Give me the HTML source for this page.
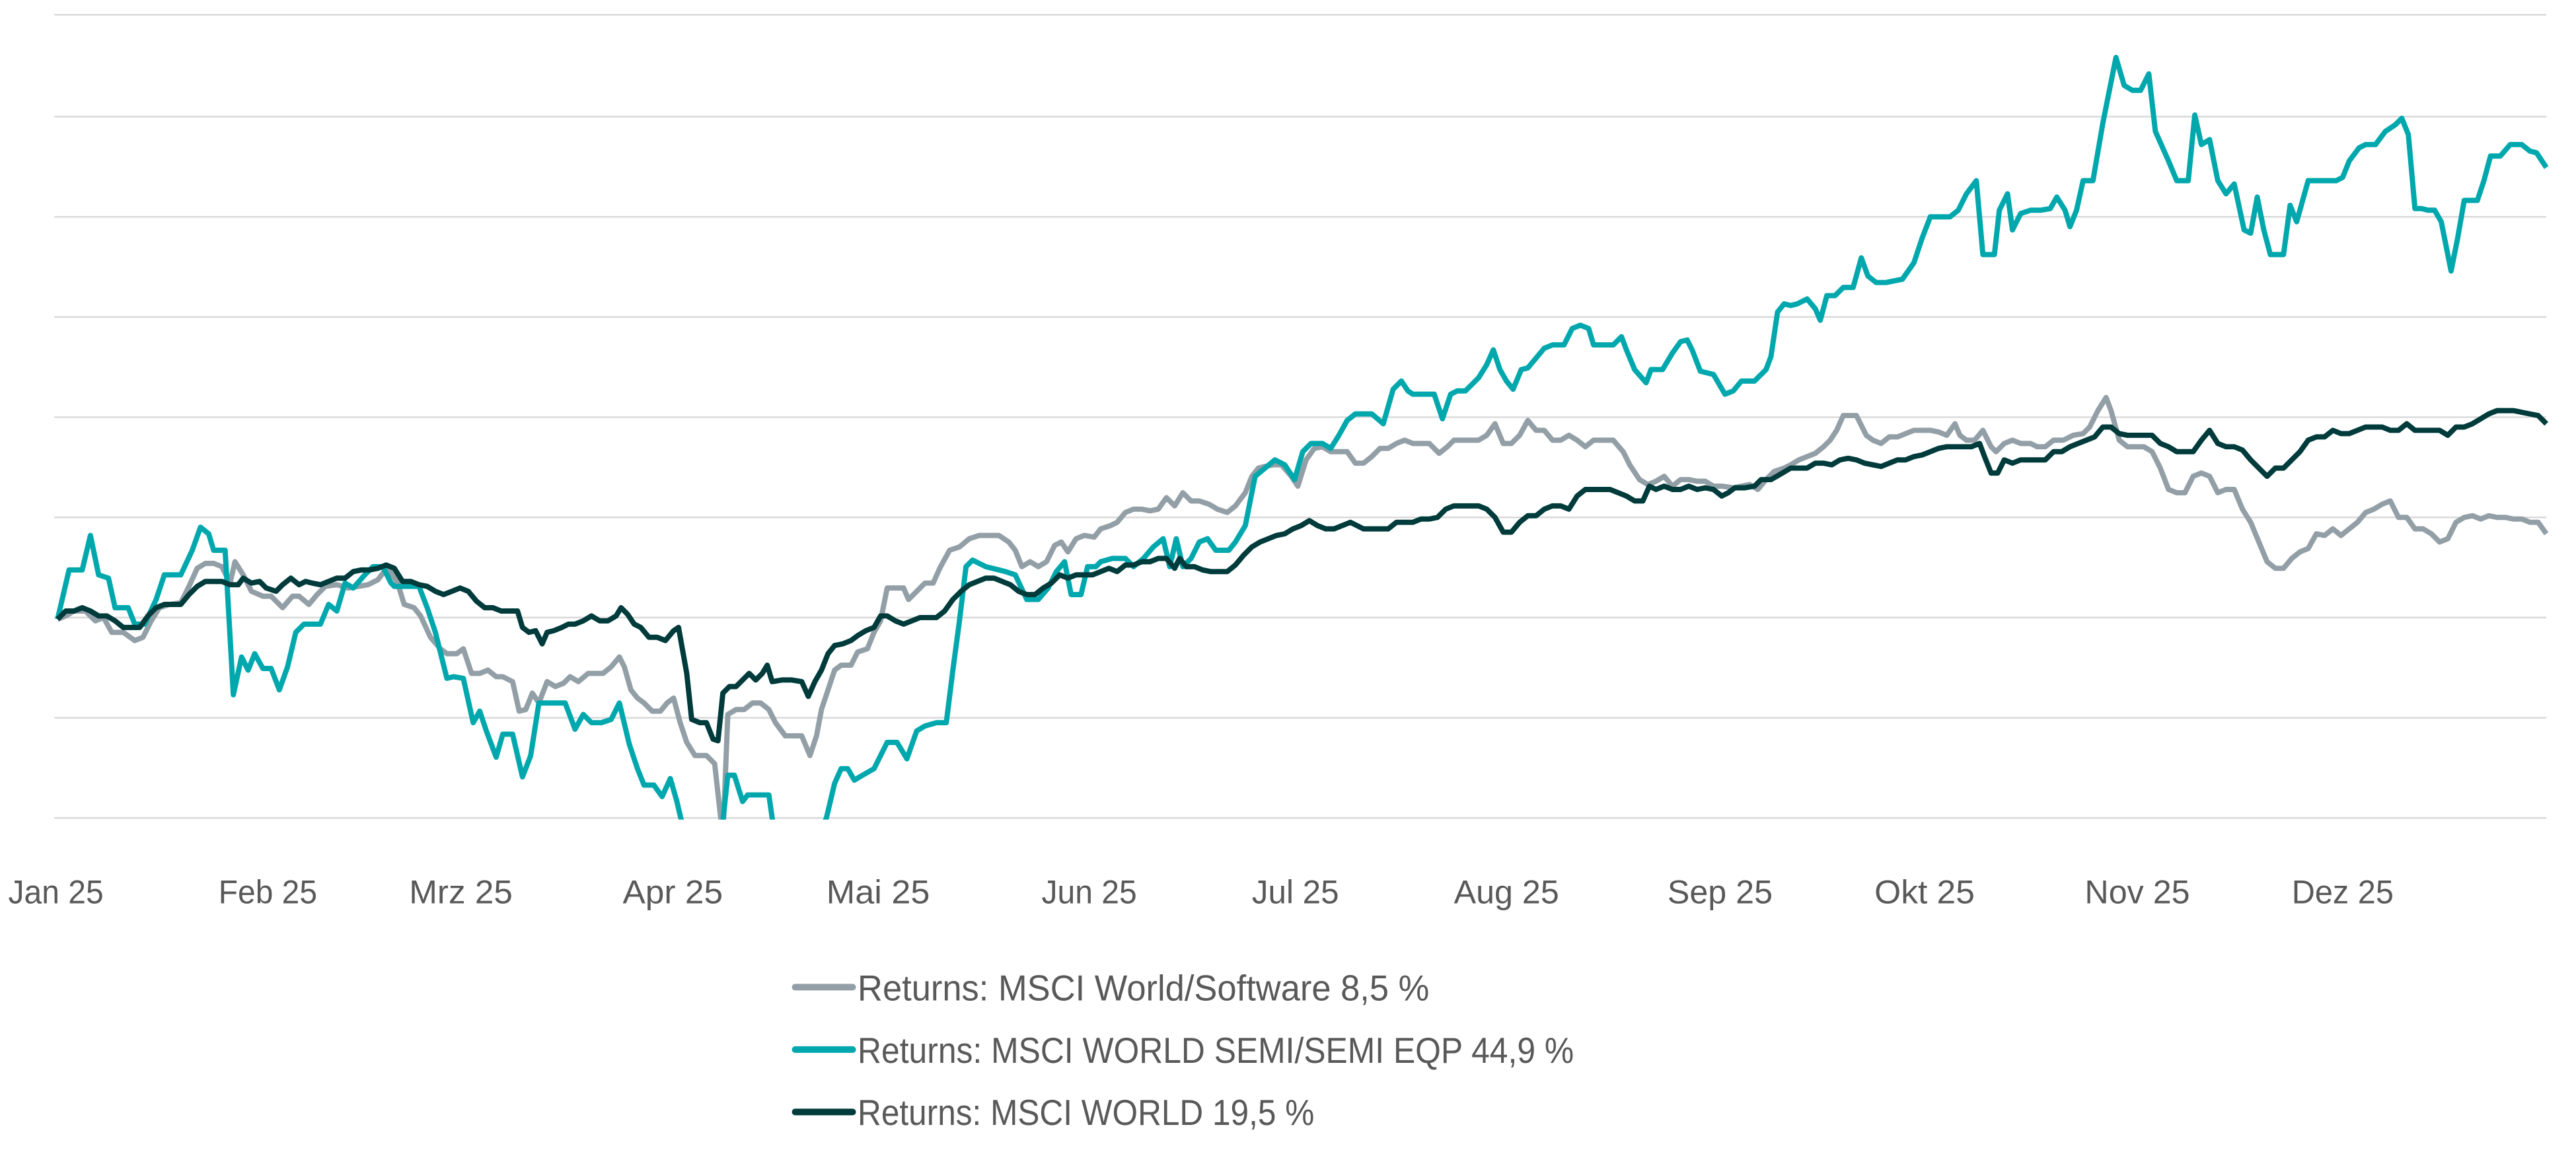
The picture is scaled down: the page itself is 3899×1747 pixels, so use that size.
<!DOCTYPE html>
<html><head><meta charset="utf-8"><style>html,body{margin:0;padding:0;background:#fff}svg{display:block}</style></head>
<body>
<svg width="3899" height="1747" viewBox="0 0 1568 702.6" xmlns="http://www.w3.org/2000/svg">
<defs><clipPath id="c"><rect x="0" y="0" width="1568" height="499"/></clipPath></defs>
<g stroke="#d9d9d9" stroke-width="1">
<line x1="33" x2="1550" y1="9" y2="9"/><line x1="33" x2="1550" y1="71" y2="71"/><line x1="33" x2="1550" y1="132" y2="132"/><line x1="33" x2="1550" y1="193" y2="193"/><line x1="33" x2="1550" y1="254" y2="254"/><line x1="33" x2="1550" y1="315" y2="315"/><line x1="33" x2="1550" y1="376" y2="376"/><line x1="33" x2="1550" y1="437" y2="437"/><line x1="33" x2="1550" y1="498" y2="498"/>
</g>
<g font-family="Liberation Sans, sans-serif" font-size="20" fill="#595959">
<text x="5" y="550" textLength="58" lengthAdjust="spacingAndGlyphs">Jan 25</text>
<text x="133" y="550" textLength="60" lengthAdjust="spacingAndGlyphs">Feb 25</text>
<text x="249" y="550" textLength="63" lengthAdjust="spacingAndGlyphs">Mrz 25</text>
<text x="379" y="550" textLength="61" lengthAdjust="spacingAndGlyphs">Apr 25</text>
<text x="503" y="550" textLength="63" lengthAdjust="spacingAndGlyphs">Mai 25</text>
<text x="634" y="550" textLength="58" lengthAdjust="spacingAndGlyphs">Jun 25</text>
<text x="762" y="550" textLength="53" lengthAdjust="spacingAndGlyphs">Jul 25</text>
<text x="885" y="550" textLength="64" lengthAdjust="spacingAndGlyphs">Aug 25</text>
<text x="1015" y="550" textLength="64" lengthAdjust="spacingAndGlyphs">Sep 25</text>
<text x="1141" y="550" textLength="61" lengthAdjust="spacingAndGlyphs">Okt 25</text>
<text x="1269" y="550" textLength="64" lengthAdjust="spacingAndGlyphs">Nov 25</text>
<text x="1395" y="550" textLength="62" lengthAdjust="spacingAndGlyphs">Dez 25</text>
</g>
<g fill="none" stroke-width="3.2" stroke-linejoin="round" clip-path="url(#c)">
<polyline stroke="#939fa6" points="35,377 40,375 45,372 52,372 58,378 63,376 68,385 75,385 82,390 87,388 92,378 97,370 103,368 110,367 115,357 120,346 125,343 130,343 135,345 140,355 143,342 148,350 153,360 160,363 165,363 172,370 178,363 182,363 188,368 193,362 198,357 205,356 212,358 218,357 224,356 230,353 236,345 242,355 246,368 252,370 256,375 262,388 268,395 272,398 278,398 282,395 287,410 292,410 297,408 302,412 306,412 312,415 316,433 320,432 324,422 328,428 333,415 338,418 343,416 347,412 352,415 358,410 362,410 367,410 372,406 377,400 380,406 384,420 388,425 392,428 397,433 402,433 406,428 410,425 414,440 418,452 423,460 430,460 435,465 440,510 443,435 448,432 453,432 458,428 463,428 468,432 472,440 478,448 483,448 488,448 493,460 497,448 500,432 504,420 508,408 512,405 518,405 522,397 528,395 532,385 536,378 540,358 545,358 550,358 553,365 558,360 563,355 568,355 572,346 578,335 584,333 590,328 596,326 602,326 608,326 614,330 618,335 622,345 627,342 632,345 637,342 642,332 646,330 650,336 655,328 660,326 666,327 670,322 676,320 680,318 685,312 690,310 695,310 700,311 705,310 710,303 715,308 720,300 725,305 730,305 736,307 741,310 747,312 752,308 758,300 762,290 766,285 770,284 775,283 780,283 786,290 790,296 795,280 800,273 805,272 810,275 815,275 820,275 825,282 830,282 835,278 840,273 845,273 850,270 855,268 860,270 865,270 870,270 876,276 881,272 885,268 890,268 895,268 900,268 905,265 910,258 915,270 920,270 925,265 930,256 935,262 940,262 945,268 950,268 955,265 960,268 965,272 970,268 976,268 982,268 988,275 992,283 998,292 1003,295 1008,293 1013,290 1018,296 1023,292 1028,292 1033,293 1038,293 1043,296 1048,296 1055,297 1060,296 1065,295 1070,298 1075,292 1080,287 1086,285 1090,283 1095,280 1100,278 1105,276 1110,272 1114,268 1118,262 1122,253 1130,253 1136,265 1140,268 1145,270 1150,266 1155,266 1160,264 1165,262 1170,262 1175,262 1180,263 1185,265 1190,258 1193,265 1197,268 1202,268 1207,262 1212,272 1215,275 1220,270 1225,268 1230,270 1236,270 1240,272 1245,272 1250,268 1256,268 1262,265 1268,264 1272,260 1277,250 1282,242 1285,250 1290,268 1295,272 1300,272 1305,272 1310,275 1315,285 1320,298 1325,300 1330,300 1335,290 1340,288 1345,290 1350,300 1355,298 1360,298 1365,310 1370,318 1375,330 1380,342 1385,346 1390,346 1395,340 1400,336 1405,334 1410,325 1415,326 1420,322 1425,326 1430,322 1435,318 1440,312 1445,310 1450,307 1455,305 1460,315 1465,315 1470,322 1475,322 1480,325 1485,330 1490,328 1495,318 1500,315 1505,314 1510,316 1515,314 1520,315 1525,315 1530,316 1535,316 1540,318 1545,318 1550,325"/>
<polyline stroke="#00a8ad" points="35,377 42,347 50,347 55,326 60,350 66,352 70,370 78,370 82,380 88,380 95,365 100,350 110,350 117,335 122,321 127,325 130,335 137,335 142,423 147,400 151,408 155,398 160,407 165,407 170,420 175,406 180,385 185,380 195,380 200,368 205,372 210,355 215,358 222,350 227,345 233,345 238,355 240,357 245,357 255,357 260,370 265,385 268,397 272,413 276,412 282,413 288,440 292,433 296,445 302,461 306,447 312,447 318,473 323,460 328,428 333,428 338,428 344,428 350,444 355,435 360,440 366,440 372,438 377,428 383,453 388,468 392,478 398,478 403,485 408,474 412,488 416,505 425,530 438,520 440,500 443,472 447,472 452,488 455,484 462,484 468,484 471,505 490,530 503,498 508,477 512,468 516,468 520,475 525,472 532,468 536,460 540,452 546,452 552,462 558,445 563,442 570,440 576,440 580,408 584,378 588,345 592,341 600,345 612,348 618,350 625,365 632,365 638,358 643,348 648,342 652,362 658,362 662,345 667,345 670,342 677,340 685,340 690,345 696,340 702,333 708,328 712,345 716,328 720,345 725,340 730,330 735,328 740,335 748,335 752,330 758,320 764,290 770,285 776,280 782,283 788,292 793,275 798,270 805,270 810,273 815,265 820,256 825,252 835,252 842,258 848,237 853,232 857,238 860,240 867,240 873,240 878,255 883,240 887,238 892,238 900,230 905,222 909,213 913,225 917,232 921,237 926,225 930,224 935,218 940,212 945,210 952,210 957,200 962,198 967,200 970,210 976,210 982,210 987,205 990,213 995,225 1002,233 1005,225 1012,225 1018,215 1023,208 1027,207 1030,213 1035,226 1043,228 1050,240 1055,238 1060,232 1068,232 1075,225 1078,217 1082,190 1086,185 1090,186 1094,185 1100,182 1105,188 1108,195 1112,180 1117,180 1122,175 1128,175 1133,157 1137,168 1142,172 1148,172 1158,170 1165,160 1170,145 1175,132 1180,132 1187,132 1192,128 1197,118 1203,110 1207,155 1214,155 1217,128 1222,118 1225,140 1230,130 1236,128 1242,128 1248,127 1252,120 1257,128 1260,138 1264,128 1268,110 1274,110 1280,75 1288,35 1293,52 1298,55 1303,55 1308,45 1312,80 1320,98 1325,110 1332,110 1336,70 1340,88 1345,85 1350,110 1355,118 1360,112 1366,140 1370,142 1374,120 1378,140 1382,155 1390,155 1394,125 1398,135 1405,110 1412,110 1422,110 1426,108 1430,98 1436,90 1440,88 1446,88 1452,80 1458,76 1462,72 1466,82 1470,127 1474,127 1478,128 1482,128 1486,135 1492,165 1496,145 1500,122 1508,122 1512,110 1516,95 1522,95 1528,88 1535,88 1540,92 1544,93 1550,102"/>
<polyline stroke="#003b3c" points="35,377 40,372 45,372 50,370 55,372 60,375 65,375 70,378 75,382 80,382 85,382 90,375 95,370 100,368 105,368 110,368 115,362 120,357 125,354 130,354 135,354 140,356 145,356 148,352 153,355 158,354 162,358 168,360 172,356 177,352 182,356 186,354 190,355 195,356 200,354 205,352 210,352 215,348 220,347 225,347 230,346 235,344 240,346 245,354 250,354 255,356 260,357 265,360 270,362 275,360 280,358 285,360 290,366 295,370 300,370 305,372 310,372 315,372 318,382 322,385 326,384 330,392 333,385 337,384 342,382 346,380 350,380 355,378 360,375 365,378 370,378 375,375 378,370 382,374 386,380 390,382 395,388 400,388 405,390 410,384 413,382 418,410 421,438 426,440 430,440 434,450 437,451 440,422 444,418 448,418 452,414 456,410 460,414 464,410 467,405 470,415 476,414 482,414 488,415 492,424 496,415 500,408 504,398 508,393 513,392 518,390 522,387 527,384 532,382 536,375 540,375 545,378 550,380 555,378 560,376 565,376 570,376 575,372 580,365 585,360 590,356 595,354 600,352 605,352 610,354 615,356 620,360 625,362 630,362 635,358 640,355 645,350 650,352 655,350 660,350 665,350 670,348 675,346 680,348 685,344 690,344 695,342 700,342 705,340 710,340 715,346 718,340 722,345 727,345 732,347 737,348 742,348 747,348 752,344 757,338 762,333 767,330 772,328 777,326 782,325 787,322 792,320 797,317 802,320 807,322 812,322 817,320 822,318 826,320 830,322 835,322 840,322 845,322 850,318 855,318 860,318 865,316 870,316 875,315 880,310 885,308 890,308 895,308 900,308 905,310 910,315 915,324 920,324 925,318 930,314 935,314 940,310 945,308 950,308 955,310 960,302 965,298 970,298 975,298 980,298 985,300 990,302 995,305 1000,305 1004,296 1008,298 1013,296 1018,298 1023,298 1028,296 1033,298 1038,297 1043,298 1048,302 1052,300 1056,297 1062,297 1068,296 1072,292 1078,292 1085,288 1090,285 1095,285 1100,285 1105,282 1110,282 1115,283 1120,280 1125,279 1130,280 1135,282 1140,283 1145,284 1150,282 1155,280 1160,280 1165,278 1170,277 1175,275 1180,273 1185,272 1190,272 1195,272 1200,272 1205,270 1208,278 1212,288 1216,288 1220,280 1225,282 1230,280 1235,280 1240,280 1245,280 1250,275 1255,275 1260,272 1265,270 1270,268 1275,266 1280,260 1285,260 1290,264 1295,265 1300,265 1305,265 1310,265 1315,270 1320,272 1325,275 1330,275 1335,275 1340,268 1345,262 1350,270 1355,272 1360,272 1365,274 1370,280 1375,285 1380,290 1385,285 1390,285 1395,280 1400,275 1405,268 1410,266 1415,266 1420,262 1425,264 1430,264 1435,262 1440,260 1445,260 1450,260 1455,262 1460,262 1465,258 1470,262 1475,262 1480,262 1485,262 1490,265 1495,260 1500,260 1505,258 1510,255 1515,252 1520,250 1525,250 1530,250 1535,251 1540,252 1545,253 1550,258"/>
</g>
<g stroke-width="4" stroke-linecap="round">
<line x1="484" x2="519" y1="601" y2="601" stroke="#939fa6"/>
<line x1="484" x2="519" y1="639" y2="639" stroke="#00a8ad"/>
<line x1="484" x2="519" y1="677" y2="677" stroke="#003b3c"/>
</g>
<g font-family="Liberation Sans, sans-serif" font-size="22" fill="#595959">
<text x="522" y="609" textLength="348" lengthAdjust="spacingAndGlyphs">Returns: MSCI World/Software 8,5 %</text>
<text x="522" y="647" textLength="436" lengthAdjust="spacingAndGlyphs">Returns: MSCI WORLD SEMI/SEMI EQP 44,9 %</text>
<text x="522" y="685" textLength="278" lengthAdjust="spacingAndGlyphs">Returns: MSCI WORLD 19,5 %</text>
</g>
</svg>
</body></html>
